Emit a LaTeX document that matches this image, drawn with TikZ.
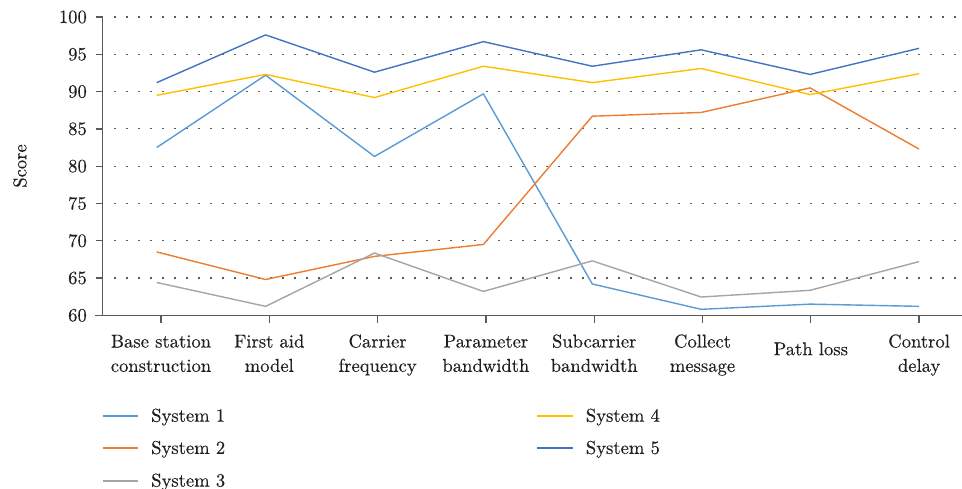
\documentclass[tikz,border=0pt]{standalone}
\usepackage{fontspec}
\setmainfont{lmroman10-regular.otf}[FakeBold=0.3]
\definecolor{sA}{HTML}{5B9BD5}
\definecolor{sB}{HTML}{ED7D31}
\definecolor{sC}{HTML}{A5A5A5}
\definecolor{sD}{HTML}{FFC000}
\definecolor{sE}{HTML}{4472C4}
\definecolor{axisgray}{HTML}{595959}
\definecolor{txt}{HTML}{231F20}
\begin{document}
\begin{tikzpicture}[x=1pt,y=-1pt,
  lbl/.style={font=\fontsize{18.6}{24.3}\selectfont, text=txt, inner sep=0pt},
  series/.style={line width=1.4pt, line join=round},
  legline/.style={line width=1.4pt},
  griddots/.style={line width=1.2pt, dash pattern=on 1.2pt off 10.8pt, color=black!65},
  axisline/.style={line width=1.3pt, color=axisgray}]
\useasboundingbox (0,0) rectangle (962,489);
\fill[white] (0,0) rectangle (962,489);
\begin{scope}[shift={(0,762.72)}, y=7.457pt]
  % dotted gridlines
  \foreach \v in {65,70,...,100}
    \draw[griddots] (114.4,\v) -- (962,\v);
  % axes
  \draw[axisline] (102.7,100) -- (102.7,60);
  \draw[axisline] (95,60) -- (962,60);
  \foreach \v in {60,65,...,100}
    \draw[axisline] (95.5,\v) -- (102.7,\v);
  \foreach \i in {0,...,7}
    \draw[axisline] ({161+108.3*\i},60) -- ({161+108.3*\i},58.93);
  % y tick labels
  \foreach \v in {60,65,...,100}
    \node[lbl, anchor=east] (yt\v) at (87,\v) {\v};
  % series
  \draw[sA, series] plot coordinates {(156.7,82.5) (265.6,92.2) (374.5,81.3) (483.4,89.7) (592.3,64.2) (701.2,60.8) (810.1,61.5) (919.0,61.2)};
  \draw[sB, series] plot coordinates {(156.7,68.5) (265.6,64.8) (374.5,67.9) (483.4,69.5) (592.3,86.7) (701.2,87.2) (810.1,90.5) (919.0,82.3)};
  \draw[sC, series] plot coordinates {(156.7,64.4) (265.6,61.2) (374.5,68.35) (483.4,63.2) (592.3,67.3) (701.2,62.45) (810.1,63.35) (919.0,67.2)};
  \draw[sD, series] plot coordinates {(156.7,89.5) (265.6,92.3) (374.5,89.2) (483.4,93.4) (592.3,91.2) (701.2,93.1) (810.1,89.6) (919.0,92.4)};
  \draw[sE, series] plot coordinates {(156.7,91.2) (265.6,97.6) (374.5,92.6) (483.4,96.7) (592.3,93.4) (701.2,95.6) (810.1,92.3) (919.0,95.8)};
\end{scope}
% axis title
\node[lbl, rotate=90] (ytitle) at (20,166) {Score};
% category labels
\node[lbl, anchor=north, align=center] (c1) at (161.0,330.3) {\strut Base station\\construction};
\node[lbl, anchor=north, align=center] (c2) at (269.3,330.3) {\strut First aid\\model};
\node[lbl, anchor=north, align=center] (c3) at (377.6,330.3) {\strut Carrier\\frequency};
\node[lbl, anchor=north, align=center] (c4) at (485.9,330.3) {\strut Parameter\\bandwidth};
\node[lbl, anchor=north, align=center] (c5) at (594.2,330.3) {\strut Subcarrier\\bandwidth};
\node[lbl, anchor=north, align=center] (c6) at (702.5,330.3) {\strut Collect\\message};
\node[lbl, anchor=north, align=center] (c7) at (810.8,338.0) {\strut Path loss};
\node[lbl, anchor=north, align=center] (c8) at (919.1,330.3) {\strut Control\\delay};
% legend
\draw[sA, legline] (102.7,416) -- (137.7,416);
\node[lbl, anchor=base west] (l1) at (151,421.7) {System 1};
\draw[sB, legline] (102.7,448) -- (137.7,448);
\node[lbl, anchor=base west] (l2) at (151,453.9) {System 2};
\draw[sC, legline] (102.7,481) -- (137.7,481);
\node[lbl, anchor=base west] (l3) at (151,486.6) {System 3};
\draw[sD, legline] (537.3,416) -- (573.3,416);
\node[lbl, anchor=base west] (l4) at (585.7,421.7) {System 4};
\draw[sE, legline] (537.3,448) -- (573.3,448);
\node[lbl, anchor=base west] (l5) at (585.7,453.9) {System 5};
\end{tikzpicture}
\end{document}
